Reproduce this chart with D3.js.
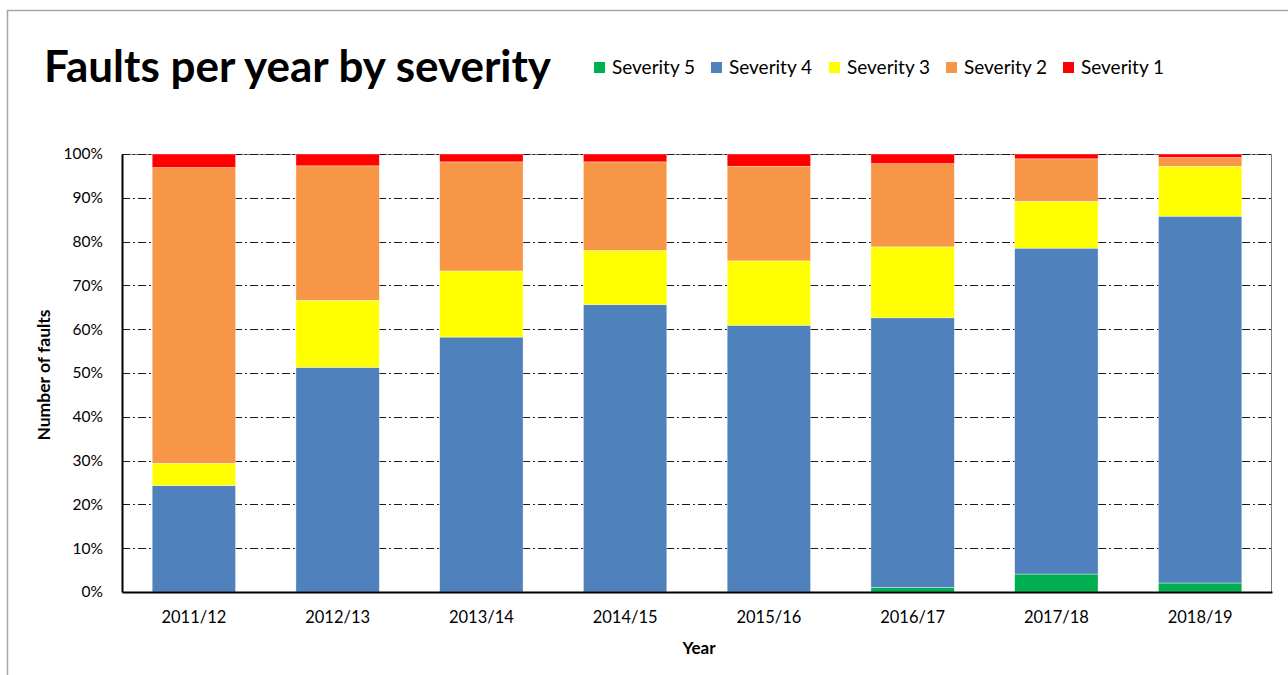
<!DOCTYPE html>
<html>
<head>
<meta charset="utf-8">
<script src="https://cdn.jsdelivr.net/npm/d3@7"></script>
<style>
  html, body { margin: 0; padding: 0; background: #fff; }
  svg { display: block; }
</style>
</head>
<body>
<div id="chart"></div>
<script>
// Faults per year by severity (100% stacked columns)

const years = ["2011/12", "2012/13", "2013/14", "2014/15", "2015/16", "2016/17", "2017/18", "2018/19"];
const severities = ["Severity 5", "Severity 4", "Severity 3", "Severity 2", "Severity 1"];
const colors = ["#00b050", "#4f81bd", "#ffff00", "#f79646", "#ff0000"];

// share of faults (%) per year
const severity5 = [0, 0, 0, 0, 0, 1.05, 4.1, 2.05];
const severity4 = [24.3, 51.3, 58.2, 65.6, 60.9, 61.55, 74.4, 83.75];
const severity3 = [5.1, 15.3, 15.1, 12.4, 14.7, 16.2, 10.7, 11.4];
const severity2 = [67.5, 30.7, 24.9, 20.2, 21.6, 19.0, 9.7, 2.0];
const severity1 = [3.1, 2.7, 1.8, 1.8, 2.8, 2.2, 1.1, 0.8];

const yTicks = [0, 0.1, 0.2, 0.3, 0.4, 0.5, 0.6, 0.7, 0.8, 0.9, 1];

const W = 1288, H = 675;
const margin = { t: 154, r: 16, b: 83, l: 122 };
const width = W - margin.l - margin.r;
const height = H - margin.t - margin.b;
const font = "Lato, 'Open Sans', sans-serif";

const series = [severity5, severity4, severity3, severity2, severity1];
const table = years.map((y, i) => {
  const row = { year: y };
  severities.forEach((s, k) => { row[s] = series[k][i]; });
  return row;
});

const stacked = d3.stack()
  .keys(severities)
  .offset(d3.stackOffsetExpand)(table);

const svg = d3.select("#chart")
  .append("svg")
  .attr("width", W)
  .attr("height", H);

// outer chart frame
svg.append("path")
  .attr("d", `M7.5,${H} V10.5 H${W}`)
  .attr("fill", "none")
  .attr("stroke", "#a6a6a6")
  .attr("stroke-width", 1.5);

const x = d3.scaleBand()
  .domain(years)
  .range([0, width])
  .paddingInner(0.42)
  .paddingOuter(0.21);

const y = d3.scaleLinear().domain([0, 1]).range([height, 0]);

const g = svg.append("g")
  .attr("transform", `translate(${margin.l}, ${margin.t})`);

// plot area border (top / right)
g.append("path")
  .attr("d", `M0,0.5 H${width - 0.5} V${height}`)
  .attr("fill", "none")
  .attr("stroke", "#7f7f7f")
  .attr("stroke-width", 1);

// dash-dot gridlines
g.append("g")
  .selectAll("line")
  .data(yTicks.filter((d) => d > 0))
  .join("line")
  .attr("x1", 0)
  .attr("x2", width)
  .attr("y1", (d) => Math.round(y(d)) + 0.5)
  .attr("y2", (d) => Math.round(y(d)) + 0.5)
  .attr("stroke", "#1a1a1a")
  .attr("stroke-width", 1.2)
  .attr("stroke-dasharray", "8,3,2,3");

// bars
g.append("g")
  .selectAll("g")
  .data(stacked)
  .join("g")
  .attr("fill", (d, i) => colors[i])
  .selectAll("rect")
  .data((d) => d)
  .join("rect")
  .attr("x", (d) => x(d.data.year))
  .attr("width", x.bandwidth())
  .attr("y", (d) => y(d[1]))
  .attr("height", (d) => y(d[0]) - y(d[1]))
  .attr("stroke", "#fff")
  .attr("stroke-width", 0.6)
  .attr("stroke-opacity", 0.6);

// axes
const yAxis = g.append("g")
  .call(d3.axisLeft(y).tickValues(yTicks).tickFormat(d3.format(".0%")).tickSize(0).tickPadding(19));
yAxis.select(".domain").attr("stroke", "#000").attr("stroke-width", 2);
yAxis.selectAll("text")
  .attr("font-family", font)
  .attr("font-size", 15.5)
  .attr("fill", "#000");

const xAxis = g.append("g")
  .attr("transform", `translate(0, ${height})`)
  .call(d3.axisBottom(x).tickSize(0).tickPadding(19));
xAxis.select(".domain").attr("stroke", "#000").attr("stroke-width", 2);
xAxis.selectAll("text")
  .attr("font-family", font)
  .attr("font-size", 16.5)
  .attr("fill", "#000");

// axis titles
svg.append("text")
  .attr("x", margin.l + width / 2 + 2)
  .attr("y", 654)
  .attr("text-anchor", "middle")
  .attr("font-family", font)
  .attr("font-weight", "bold")
  .attr("font-size", 17)
  .text("Year");

svg.append("text")
  .attr("transform", `translate(50, ${margin.t + height / 2 + 2}) rotate(-90)`)
  .attr("text-anchor", "middle")
  .attr("font-family", font)
  .attr("font-weight", "bold")
  .attr("font-size", 17.5)
  .text("Number of faults");

// title
svg.append("text")
  .attr("x", 44)
  .attr("y", 82)
  .attr("font-family", font)
  .attr("font-weight", "bold")
  .attr("font-size", 44)
  .attr("fill", "#000")
  .text("Faults per year by severity");

// legend
const legendX = [594, 711, 829, 946, 1063];
const legend = svg.append("g")
  .selectAll("g")
  .data(severities)
  .join("g")
  .attr("transform", (d, i) => `translate(${legendX[i]}, 62)`);
legend.append("rect")
  .attr("width", 11)
  .attr("height", 11)
  .attr("fill", (d, i) => colors[i]);
legend.append("text")
  .attr("x", 18)
  .attr("y", 12)
  .attr("font-family", font)
  .attr("font-size", 19)
  .attr("fill", "#000")
  .text((d) => d);
</script>
</body>
</html>
